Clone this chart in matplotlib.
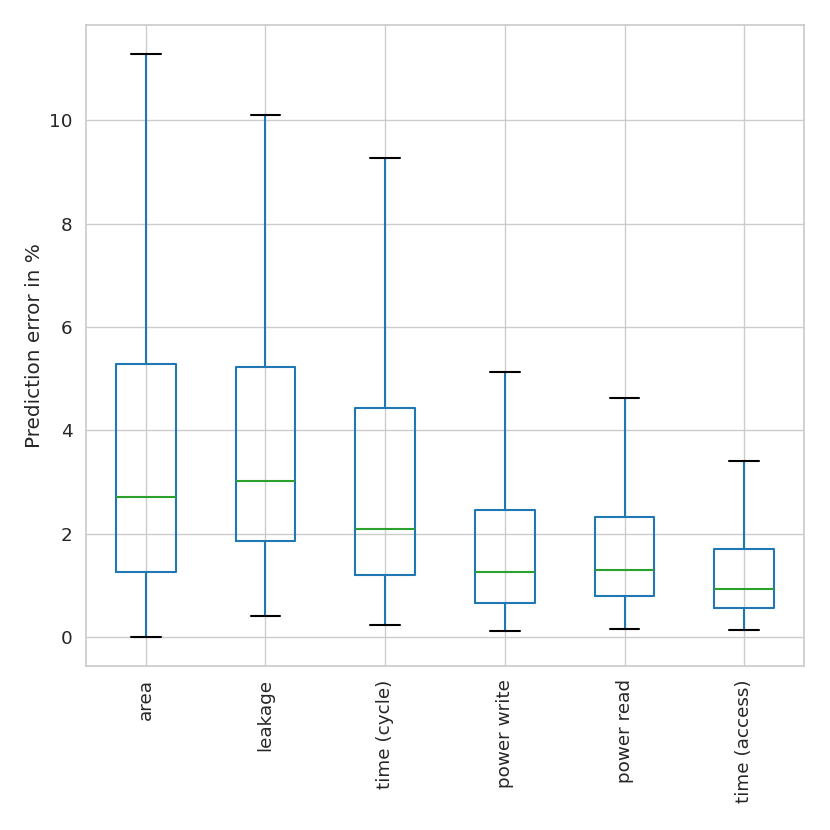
import matplotlib
matplotlib.use("Agg")
import matplotlib.pyplot as plt
import seaborn as sns

sns.set_theme(style="whitegrid", font_scale=1.2)
plt.rcParams['font.family'] = ['DejaVu Sans']

names = ['area', 'leakage', 'time (cycle)', 'power write', 'power read', 'time (access)']
lower = [0.0, 0.41, 0.23, 0.12, 0.15, 0.14]
q1 = [1.26, 1.86, 1.20, 0.66, 0.79, 0.56]
median = [2.71, 3.02, 2.09, 1.26, 1.30, 0.93]
q3 = [5.28, 5.22, 4.43, 2.46, 2.32, 1.70]
upper = [11.28, 10.10, 9.26, 5.13, 4.62, 3.40]

stats = []
for i in range(len(names)):
    stats.append({'label': names[i], 'whislo': lower[i], 'q1': q1[i], 'med': median[i],
                  'q3': q3[i], 'whishi': upper[i], 'fliers': []})

fig = plt.figure(figsize=(8.3, 8.3), dpi=100)
ax = fig.add_axes([0.1036, 0.1976, 0.8651, 0.7723])

ax.bxp(stats, widths=0.5, showfliers=False,
       boxprops=dict(color='#1f77b4', linewidth=1.5),
       whiskerprops=dict(color='#1f77b4', linewidth=1.5),
       capprops=dict(color='black', linewidth=1.5),
       medianprops=dict(color='#2ca02c', linewidth=1.5))

ax.set_ylabel('Prediction error in %', fontsize=14.4)
ax.tick_params(axis='both', labelsize=13.2)
plt.setp(ax.get_xticklabels(), rotation=90)
ax.grid(True, axis='both')
ax.set_axisbelow(True)
for s in ax.spines.values():
    s.set_color('#cccccc')

fig.savefig('out.png', dpi=100)
